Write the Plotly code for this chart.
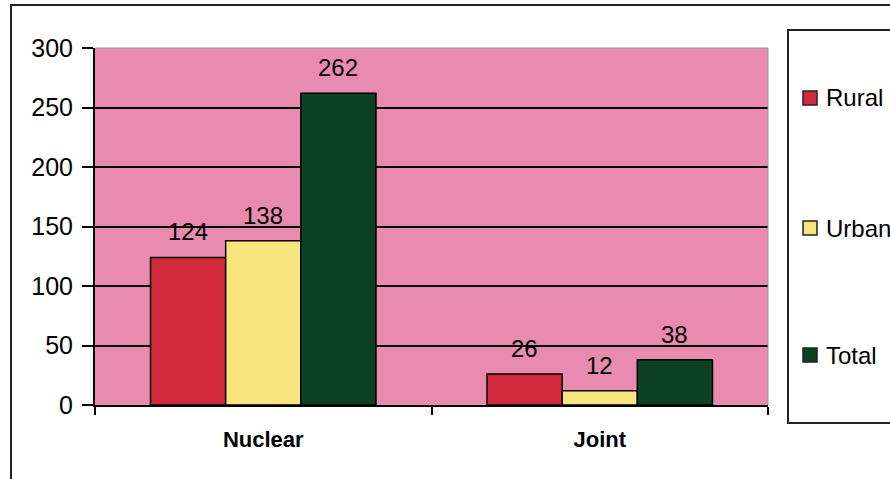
import plotly.graph_objects as go

categories = ["Nuclear", "Joint"]
series_names = ["Rural", "Urban", "Total"]
rural = [124, 26]
urban = [138, 12]
total = [262, 38]
y_ticks = [0, 50, 100, 150, 200, 250, 300]

colors = {"Rural": "#D22A3C", "Urban": "#F7E47C", "Total": "#0C4224"}
values = {"Rural": rural, "Urban": urban, "Total": total}

FONT = "Arial, Liberation Sans, sans-serif"

# plot area in pixels
L, R, T, B = 95, 768, 48, 405
W, H = 890, 479
PW, PH = R - L, B - T


def px_x(px):
    return (px - L) / PW


def px_y(py):
    return (B - py) / PH


BAR_PX = 75  # bar width in pixels, used to place value labels over each bar

fig = go.Figure()
annotations = []
for i, name in enumerate(series_names):
    fig.add_trace(go.Bar(
        name=name,
        x=categories,
        y=values[name],
        marker=dict(color=colors[name], line=dict(color="black", width=1.5)),
        showlegend=False,
    ))
    for cat, v in zip(categories, values[name]):
        annotations.append(dict(
            x=cat, y=v, xref="x", yref="y",
            text=str(v), showarrow=False,
            xshift=(i - 1) * BAR_PX, yanchor="bottom", yshift=10,
            font=dict(family=FONT, size=24, color="black"),
        ))

shapes = [
    # outer chart frame
    dict(type="rect", xref="paper", yref="paper",
         x0=px_x(11), x1=px_x(960), y0=px_y(560), y1=px_y(5),
         line=dict(color="#222222", width=2), fillcolor="rgba(0,0,0,0)", layer="below"),
    # legend box
    dict(type="rect", xref="paper", yref="paper",
         x0=px_x(788), x1=px_x(960), y0=px_y(423), y1=px_y(30),
         line=dict(color="#222222", width=2), fillcolor="rgba(0,0,0,0)", layer="below"),
    # thin border at top and right of plot area
    dict(type="line", xref="paper", yref="paper", x0=0, x1=1, y0=1, y1=1,
         line=dict(color="#999999", width=1)),
    dict(type="line", xref="paper", yref="paper", x0=1, x1=1, y0=0, y1=1,
         line=dict(color="#999999", width=1)),
]

# legend entries
legend_y = {"Rural": 98, "Urban": 228, "Total": 355}
for name in series_names:
    cy = legend_y[name]
    shapes.append(dict(
        type="rect", xref="paper", yref="paper",
        x0=px_x(803), x1=px_x(817), y0=px_y(cy + 7), y1=px_y(cy - 7),
        line=dict(color="#222222", width=1.5), fillcolor=colors[name],
    ))
    annotations.append(dict(
        x=px_x(824), y=px_y(cy), xref="paper", yref="paper",
        xanchor="left", yanchor="middle", showarrow=False,
        text=name, font=dict(family=FONT, size=24, color="black"),
    ))

fig.update_layout(
    width=W, height=H,
    margin=dict(l=L, r=W - R, t=T, b=H - B, autoexpand=False),
    paper_bgcolor="white",
    plot_bgcolor="#E98AAF",
    barmode="group",
    bargap=0.33,
    bargroupgap=0,
    font=dict(family=FONT, size=24, color="black"),
    showlegend=False,
    xaxis=dict(
        showline=True, linecolor="black", linewidth=2,
        ticks="outside", ticklen=8, tickwidth=2, tickcolor="black",
        tickson="boundaries",
        ticklabelstandoff=14,
        tickfont=dict(family=FONT, size=22, color="black", weight="bold"),
        showgrid=False,
    ),
    yaxis=dict(
        range=[0, 300],
        tickvals=y_ticks,
        showline=True, linecolor="black", linewidth=2,
        ticks="outside", ticklen=11, tickwidth=2, tickcolor="black",
        ticklabelstandoff=4,
        tickfont=dict(family=FONT, size=25, color="black"),
        showgrid=True, gridcolor="black", gridwidth=2,
        zeroline=False,
    ),
    shapes=shapes,
    annotations=annotations,
)

fig.write_html("out.html")
